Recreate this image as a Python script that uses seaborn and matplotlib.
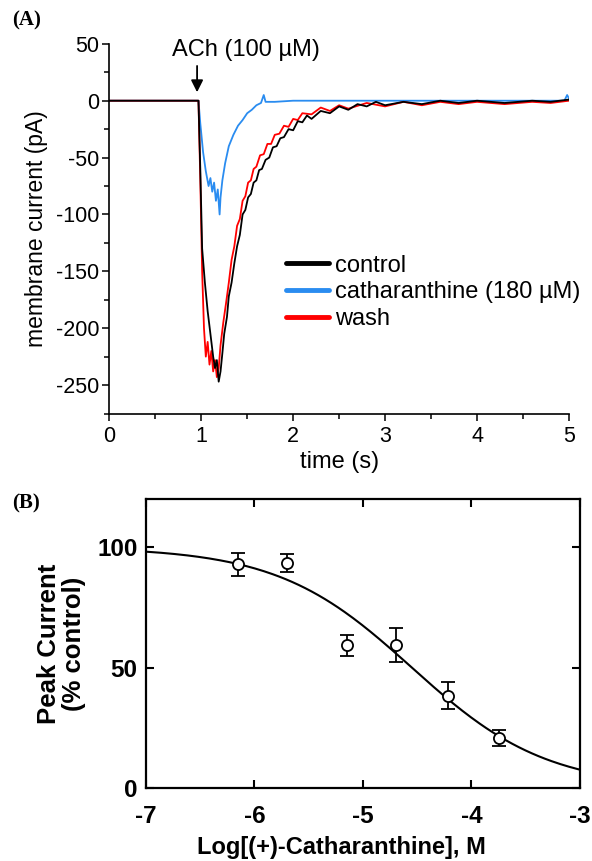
import matplotlib
matplotlib.use("Agg")
import matplotlib.pyplot as plt
import numpy as np
import pandas as pd
import seaborn as sns

# ---- panel A: whole-cell currents ----
t_control = [0, 0.5, 0.97, 0.99, 1.01, 1.04, 1.07, 1.10, 1.13, 1.15, 1.17, 1.19,
             1.21, 1.23, 1.25, 1.28, 1.30, 1.33, 1.36, 1.39, 1.42, 1.45, 1.48,
             1.51, 1.54, 1.57, 1.60, 1.63, 1.66, 1.70, 1.74, 1.78, 1.82, 1.86,
             1.90, 1.95, 2.0, 2.05, 2.1, 2.15, 2.2, 2.3, 2.4, 2.5, 2.6, 2.7,
             2.8, 2.9, 3.0, 3.2, 3.4, 3.6, 3.8, 4.0, 4.3, 4.6, 4.8, 5.0]
i_control = [0, 0, 0, -60, -130, -160, -185, -205, -225, -235, -228, -247,
             -238, -222, -205, -190, -172, -160, -143, -128, -118, -100, -96,
             -85, -82, -72, -70, -61, -60, -52, -50, -41, -40, -33,
             -32, -25, -26, -18, -19, -13, -16, -9, -11, -5, -8, -3,
             -5, -1, -4, -1, -3, 0, -2, 0, -2, 0, -1, 1]

t_cath = [0, 0.5, 0.97, 0.99, 1.02, 1.05, 1.08, 1.10, 1.12, 1.14, 1.16, 1.18,
          1.20, 1.21, 1.23, 1.26, 1.30, 1.35, 1.40, 1.45, 1.50, 1.55, 1.60,
          1.65, 1.68, 1.70, 1.8, 2.0, 2.5, 3.0, 4.0, 4.95, 4.98, 5.0]
i_cath = [0, 0, 0, -20, -45, -62, -75, -68, -80, -72, -88, -78,
          -100, -85, -70, -55, -40, -30, -22, -17, -11, -8, -4,
          -2, 5, -1, -1, 0, 0, 0, 0, 0, 5, 2]

t_wash = [0, 0.5, 0.97, 0.99, 1.01, 1.03, 1.05, 1.07, 1.09, 1.11, 1.13, 1.15,
          1.17, 1.19, 1.21, 1.24, 1.27, 1.30, 1.33, 1.36, 1.39, 1.42, 1.45,
          1.48, 1.51, 1.54, 1.57, 1.60, 1.64, 1.68, 1.72, 1.76, 1.80, 1.85,
          1.90, 1.95, 2.0, 2.05, 2.1, 2.2, 2.3, 2.4, 2.5, 2.6, 2.8, 3.0,
          3.2, 3.4, 3.6, 3.8, 4.0, 4.3, 4.6, 4.8, 5.0]
i_wash = [0, 0, 0, -70, -150, -200, -225, -212, -232, -220, -238, -228,
          -243, -235, -215, -195, -178, -160, -140, -128, -110, -104, -88,
          -84, -72, -70, -60, -58, -48, -47, -38, -38, -30, -29,
          -22, -23, -16, -17, -11, -12, -6, -9, -4, -7, -2, -5,
          -1, -4, -1, -3, -1, -3, -1, -2, 0]

trace_names = ["control", "catharanthine (180 µM)", "wash"]
trace_colors = ["#000000", "#2a8cf0", "#ff0000"]

# ---- panel B: concentration-response ----
log_conc = [-6.15, -5.70, -5.15, -4.70, -4.22, -3.75]
peak_pct = [92.8, 93.5, 59.2, 59.4, 38.3, 20.8]
peak_sem = [4.9, 3.8, 4.5, 7.0, 5.7, 3.3]
log_ic50 = -4.55
hill_n = 0.70

sns.set_style("ticks")
plt.rcParams["font.family"] = ["Liberation Sans", "DejaVu Sans"]
plt.rcParams.update({
    "text.color": "black", "axes.labelcolor": "black", "axes.edgecolor": "black",
    "xtick.color": "black", "ytick.color": "black",
    "axes.unicode_minus": False
})

fig = plt.figure(figsize = (5.92, 8.61), dpi = 100)
ax_a = fig.add_axes([0.1846, 0.5197, 0.7765, 0.4294])
ax_b = fig.add_axes([0.2466, 0.0848, 0.7331, 0.3357])

traces = pd.concat([
    pd.DataFrame({"t": t_cath, "I": i_cath, "cond": trace_names[1]}),
    pd.DataFrame({"t": t_wash, "I": i_wash, "cond": trace_names[2]}),
    pd.DataFrame({"t": t_control, "I": i_control, "cond": trace_names[0]}),
])
pal = dict(zip(trace_names, trace_colors))
for name in [trace_names[1], trace_names[2], trace_names[0]]:
    sns.lineplot(
        data = traces[traces.cond == name], x = "t", y = "I", color = pal[name],
        linewidth = 1.3, ax = ax_a, estimator = None, legend = False
        )

handles = [plt.Line2D([], [], color = c, linewidth = 3.5) for c in trace_colors]
ax_a.legend(
    handles, trace_names, loc = "upper left", bbox_to_anchor = (0.385, 0.43),
    frameon = False, fontsize = 17, handlelength = 1.8, handletextpad = 0.25,
    labelspacing = 0.2, borderpad = 0, borderaxespad = 0
    )

ax_a.set_xlim(0, 5)
ax_a.set_ylim(-275, 50)
ax_a.set_xticks(np.arange(0, 5.1, 1))
ax_a.set_xticks(np.arange(0.5, 5, 1), minor = True)
ax_a.set_yticks(np.arange(-250, 51, 50))
ax_a.set_yticks(np.arange(-275, 50, 50), minor = True)
ax_a.tick_params(labelsize = 15.5, length = 5, width = 1.1, direction = "out",
                 pad = 2)
ax_a.tick_params(axis = "x", pad = 4)
ax_a.tick_params(which = "minor", length = 3.5, width = 1.1)
for s in ["left", "bottom"]:
    ax_a.spines[s].set_linewidth(1.2)
sns.despine(ax = ax_a)
ax_a.set_xlabel("time (s)", fontsize = 17, labelpad = 3)
ax_a.set_ylabel("membrane current (pA)", fontsize = 16.5, labelpad = 6)
ax_a.annotate(
    "", xy = (0.955, 5), xytext = (0.955, 33),
    arrowprops = dict(arrowstyle = "-|>", color = "black", lw = 1.3,
                      mutation_scale = 18)
    )
ax_a.text(0.68, 39.5, "ACh (100 µM)", fontsize = 17, ha = "left",
          va = "baseline")

# panel B
x_fit = np.linspace(-7, -3, 200)
fit = pd.DataFrame({
    "x": x_fit, "y": 100 / (1 + 10 ** ((x_fit - log_ic50) * hill_n))
})
sns.lineplot(data = fit, x = "x", y = "y", color = "black", linewidth = 1.5,
             ax = ax_b, estimator = None)
ax_b.errorbar(
    log_conc, peak_pct, yerr = peak_sem, fmt = "o", mfc = "white",
    mec = "black", ecolor = "black", ms = 8, mew = 1.3, elinewidth = 1.3,
    capsize = 5, capthick = 1.3, zorder = 3
    )
ax_b.set_xlim(-7, -3)
ax_b.set_ylim(0, 120)
ax_b.set_xticks([-7, -6, -5, -4, -3])
ax_b.set_yticks([0, 50, 100])
ax_b.tick_params(direction = "in", length = 6, width = 1.5, top = True,
                 right = True, labelsize = 17.5)
ax_b.tick_params(axis = "x", pad = 12)
ax_b.tick_params(axis = "y", pad = 6)
for lab in ax_b.get_xticklabels() + ax_b.get_yticklabels():
    lab.set_fontweight("bold")
for s in ax_b.spines.values():
    s.set_linewidth(1.6)
ax_b.set_xlabel("Log[(+)-Catharanthine], M", fontsize = 17,
                fontweight = "bold")
ax_b.xaxis.set_label_coords(0.45, -0.165)
ax_b.set_ylabel("Peak Current\n(% control)", fontsize = 18.5,
                fontweight = "bold", labelpad = 8, linespacing = 1.05)

fig.text(0.02, 0.988, "(A)", family = "Liberation Serif", fontweight = "bold",
         fontsize = 15, va = "top")
fig.text(0.02, 0.427, "(B)", family = "Liberation Serif", fontweight = "bold",
         fontsize = 15, va = "top")

fig.savefig("out.png", dpi = 100)
